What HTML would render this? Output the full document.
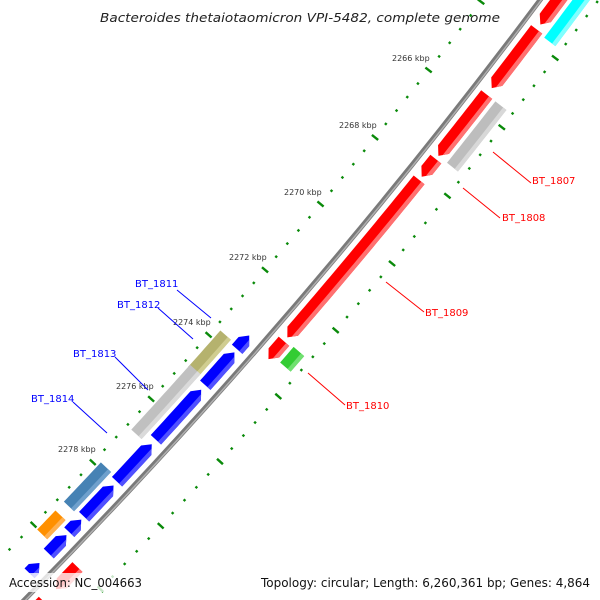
<!DOCTYPE html>
<html><head><meta charset="utf-8"><style>
html,body{margin:0;padding:0;background:#fff;width:600px;height:600px;overflow:hidden;}
svg{display:block;overflow:hidden;}
</style></head><body>
<svg id="s" width="600" height="600" viewBox="0 0 600 600" xmlns="http://www.w3.org/2000/svg">
<rect width="600" height="600" fill="#fff"/>
<g id="g"></g>
<g font-family="'DejaVu Sans','Liberation Sans',sans-serif" font-size="8" fill="#333">
<text x="392" y="61">2266 kbp</text>
<text x="339" y="128">2268 kbp</text>
<text x="284" y="195">2270 kbp</text>
<text x="229" y="260">2272 kbp</text>
<text x="173" y="325">2274 kbp</text>
<text x="116" y="389">2276 kbp</text>
<text x="58" y="452">2278 kbp</text>
</g>
<g stroke-width="1" font-family="'DejaVu Sans','Liberation Sans',sans-serif" font-size="10">
<line x1="493" y1="152" x2="531" y2="183" stroke="#f00"/>
<line x1="463" y1="188" x2="500" y2="218" stroke="#f00"/>
<line x1="386" y1="282" x2="424" y2="312" stroke="#f00"/>
<line x1="308" y1="373" x2="345" y2="405" stroke="#f00"/>
<text x="532" y="184" fill="#f00">BT_1807</text>
<text x="502" y="221" fill="#f00">BT_1808</text>
<text x="425" y="316" fill="#f00">BT_1809</text>
<text x="346" y="409" fill="#f00">BT_1810</text>
<line x1="177" y1="290" x2="211" y2="318" stroke="#00f"/>
<line x1="158" y1="308" x2="193" y2="339" stroke="#00f"/>
<line x1="115" y1="357" x2="148" y2="390" stroke="#00f"/>
<line x1="73" y1="402" x2="107" y2="433" stroke="#00f"/>
<text x="135" y="287" fill="#00f">BT_1811</text>
<text x="117" y="308" fill="#00f">BT_1812</text>
<text x="73" y="357" fill="#00f">BT_1813</text>
<text x="31" y="402" fill="#00f">BT_1814</text>
</g>
<text x="300" y="22" text-anchor="middle" font-family="'DejaVu Sans','Liberation Sans',sans-serif" font-style="italic" font-size="12" fill="#222" textLength="400" lengthAdjust="spacingAndGlyphs">Bacteroides thetaiotaomicron VPI-5482, complete genome</text>
<rect x="4" y="573" width="142" height="19" fill="#fff" opacity="0.78"/>
<rect x="256" y="573" width="338" height="19" fill="#fff" opacity="0.78"/>
<g font-family="'DejaVu Sans','Liberation Sans',sans-serif" font-size="12" fill="#111">
<text x="9" y="587" textLength="133" lengthAdjust="spacingAndGlyphs">Accession: NC_004663</text>
<text x="261" y="587" textLength="329" lengthAdjust="spacingAndGlyphs">Topology: circular; Length: 6,260,361 bp; Genes: 4,864</text>
</g>
</svg>
<script>
(function(){
var CX=-4158,CY=-3516,R=5868,NS="http://www.w3.org/2000/svg";
var g=document.getElementById('g');
function pt(r,d){var a=d*Math.PI/180;return [(CX+r*Math.cos(a)).toFixed(2),(CY+r*Math.sin(a)).toFixed(2)];}
function el(n,at){var e=document.createElementNS(NS,n);for(var k in at)e.setAttribute(k,at[k]);g.appendChild(e);return e;}
function arcPts(r,a1,a2){var p=[],n=Math.max(2,Math.ceil(Math.abs(a2-a1)/0.05));for(var i=0;i<=n;i++){p.push(pt(r,a1+(a2-a1)*i/n));}return p;}
var H=0.08;
function feat(r1,r2,a1,a2,col,lite,dir){
  var p=[],rm=(r1+r2)/2;
  var s=a1,e=a2;
  if(dir<0)s=a1+H; if(dir>0)e=a2-H;
  p=p.concat(arcPts(r2,s,e));
  if(dir>0)p.push(pt(rm,a2));
  p=p.concat(arcPts(r1,e,s));
  if(dir<0)p.push(pt(rm,a1));
  el('polygon',{points:p.map(function(q){return q.join(',')}).join(' '),fill:col});
  var rb=r2-(r2-r1)*0.3;
  var q=[];
  q=q.concat(arcPts(r2,s,e));
  if(dir>0)q.push(pt(rm+(r2-rm)*0.4,a2-H*0.4));
  q=q.concat(arcPts(rb,e,s));
  if(dir<0)q.push(pt(rm+(r2-rm)*0.4,a1+H*0.4));
  el('polygon',{points:q.map(function(z){return z.join(',')}).join(' '),fill:lite});
}
for(var k=2258;k<=2284.01;k+=0.4){
  var kk=Math.round(k*10)/10;
  var a=38.02+(kk-2266)*0.4236;
  var lg=Math.abs(kk/2-Math.round(kk/2))<0.01;
  var L=lg?4:1.2;
  [R-46,R+47].forEach(function(rr){
    var p1=pt(rr-L,a),p2=pt(rr+L,a);
    el('line',{x1:p1[0],y1:p1[1],x2:p2[0],y2:p2[1],stroke:'#0a8a0a','stroke-width':2.4});
  });
}
el('circle',{cx:CX,cy:CY,r:R,fill:'none',stroke:'#7a7a7a','stroke-width':5});
el('circle',{cx:CX,cy:CY,r:R+1,fill:'none',stroke:'#b0b0b0','stroke-width':1.5});
var o1a=R+8,o1b=R+22,o2a=R+26,o2b=R+40,i1a=R-22,i1b=R-8,i2a=R-40,i2b=R-26;
var RED='#ff0000',RL='#ff7070';
feat(o1a,o1b,36.2,37.0,RED,RL,1);
feat(o1a,o1b,37.06,37.78,RED,RL,1);
feat(o1a,o1b,37.86,38.62,RED,RL,1);
feat(o1a,o1b,38.66,38.88,RED,RL,1);
feat(o1a,o1b,38.92,40.92,RED,RL,1);
feat(o1a,o1b,40.97,41.2,RED,RL,1);
feat(o1a,o1b,43.95,44.25,RED,RL,1);
feat(o1a,o1b,44.42,44.7,RED,RL,1);
feat(o2a,o2b,36.2,37.08,'#00ffff','#80ffff',0);
feat(o2a,o2b,37.86,38.62,'#bdbdbd','#d8d8d8',0);
feat(o2a,o2b,40.95,41.15,'#33cc33','#70e070',0);
var BL='#0000ff',BLL='#5050ff';
feat(i1a,i1b,41.15,41.33,BL,BLL,-1);
feat(i1a,i1b,41.37,41.80,BL,BLL,-1);
feat(i1a,i1b,41.86,42.52,BL,BLL,-1);
feat(i1a,i1b,42.58,43.08,BL,BLL,-1);
feat(i1a,i1b,43.13,43.55,BL,BLL,-1);
feat(i1a,i1b,43.59,43.76,BL,BLL,-1);
feat(i1a,i1b,43.80,44.05,BL,BLL,-1);
feat(i1a,i1b,44.18,44.32,BL,BLL,-1);
feat(i2a,i2b,41.30,41.78,'#b5b26e','#d0cd90',0);
feat(i2a,i2b,41.75,42.61,'#c0c0c0','#dadada',0);
feat(i2a,i2b,43.05,43.58,'#4682b4','#6fa0cc',0);
feat(i2a,i2b,43.70,43.96,'#ff9000','#ffb050',0);
})();
</script>
</body></html>
